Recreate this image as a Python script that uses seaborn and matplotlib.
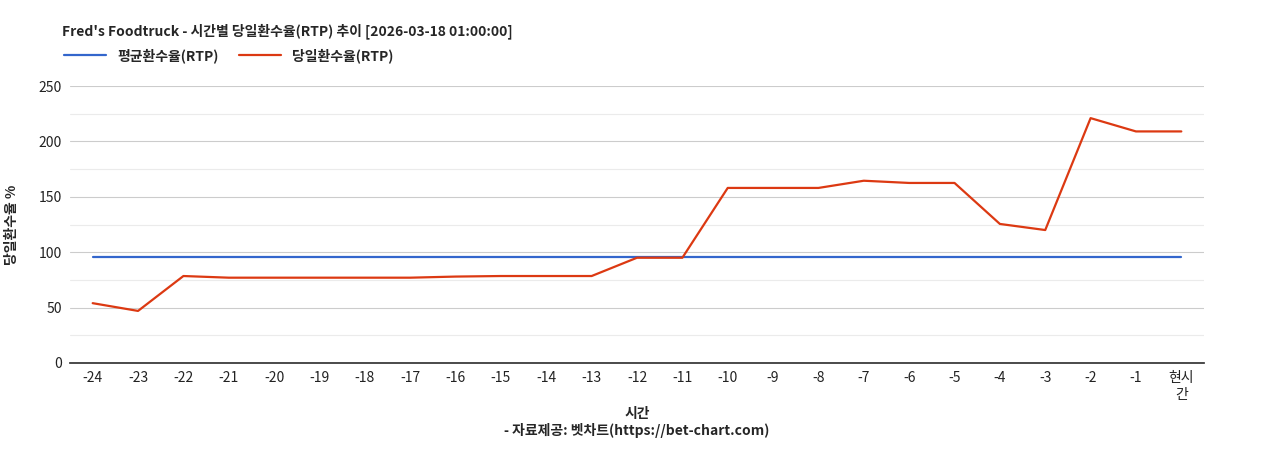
import numpy as np
import pandas as pd
import matplotlib.pyplot as plt
import seaborn as sns

sns.set_theme(style="white")
plt.rcParams['font.family'] = ['Noto Sans CJK KR', 'DejaVu Sans']

hours = [str(h) for h in range(-24, 0)] + ['현시\n간']
rtp_today = [54, 47, 78.5, 77, 77, 77, 77, 77, 78, 78.5, 78.5, 78.5, 95, 95,
             158, 158, 158, 164.5, 162.5, 162.5, 125.5, 120, 221, 209, 209]
rtp_avg = [96] * 25

df = pd.DataFrame({'x': np.arange(len(hours)), 'avg': rtp_avg, 'today': rtp_today})

fig = plt.figure(figsize=(12.68, 4.5), dpi=100)
ax = fig.add_axes([70 / 1268, 1 - 363 / 450, 1134 / 1268, 277 / 450])

sns.lineplot(data=df, x='x', y='avg', ax=ax, color='#3366cc', lw=1.6, label='평균환수율(RTP)')
sns.lineplot(data=df, x='x', y='today', ax=ax, color='#dc3912', lw=1.6, label='당일환수율(RTP)')

ax.set_ylim(0, 250)
ax.set_xlim(-0.5, len(hours) - 0.5)
ax.set_yticks(range(0, 251, 50))
ax.set_yticks(range(25, 251, 50), minor=True)
ax.grid(axis='y', which='major', color='#cccccc', lw=0.8)
ax.grid(axis='y', which='minor', color='#ebebeb', lw=0.8)
ax.set_xticks(df['x'])
ax.set_xticklabels(hours)
ax.tick_params(axis='both', labelsize=10, colors='#222222', length=0, pad=6)
for s in ['top', 'right', 'left']:
    ax.spines[s].set_visible(False)
ax.spines['bottom'].set_color('#333333')
ax.set_ylabel('당일환수율 %', fontsize=10, fontweight='bold', labelpad=14)
ax.set_xlabel('시간\n- 자료제공: 벳차트(https://bet-chart.com)', fontsize=10, fontweight='bold', labelpad=4)

fig.text(62 / 1268, 1 - 31 / 450, "Fred's Foodtruck - 시간별 당일환수율(RTP) 추이 [2026-03-18 01:00:00]",
         fontsize=10, fontweight='bold', va='center')
ax.legend(loc='lower left', bbox_to_anchor=(-0.01, 1.062), ncol=2, frameon=False,
          prop={'weight': 'bold', 'size': 10}, handlelength=3, columnspacing=1.5, borderaxespad=0)

fig.savefig('out.png', dpi=100)
